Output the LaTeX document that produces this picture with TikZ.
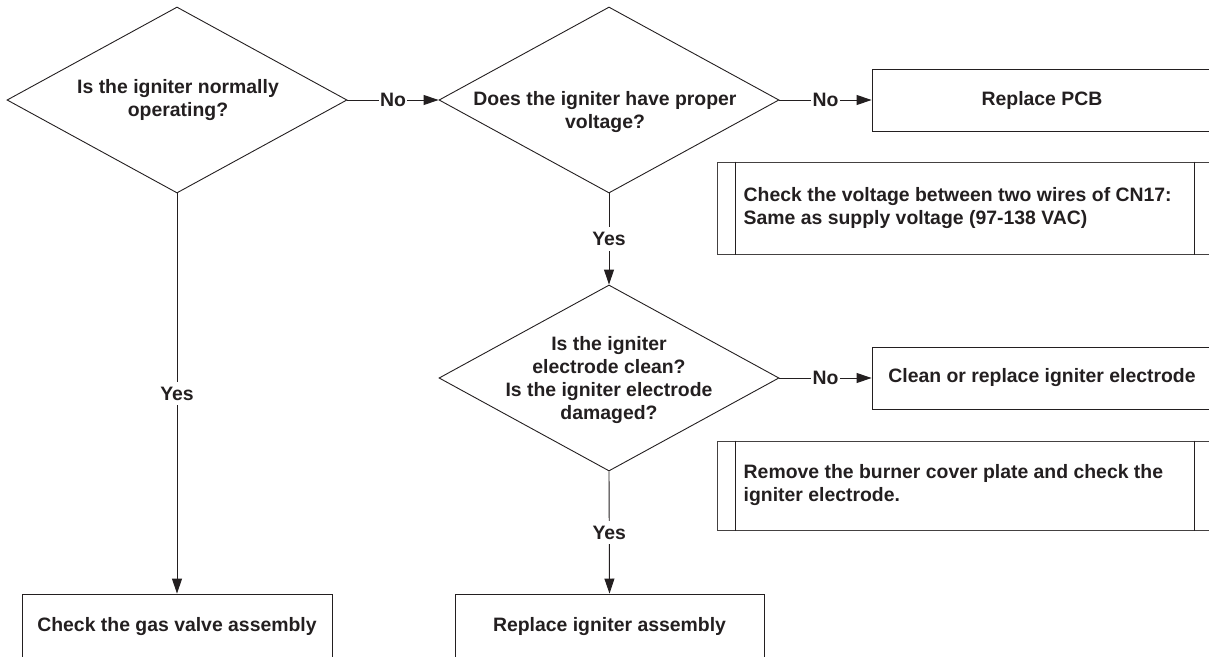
\documentclass[tikz,border=0pt]{standalone}
\usepackage{fontspec}
\setmainfont{Liberation Sans}
\usetikzlibrary{shapes.geometric,arrows.meta}
\definecolor{ink}{HTML}{231F20}
\begin{document}
\begin{tikzpicture}[x=1pt,y=-1pt,
  every node/.style={font=\fontsize{19.4}{23}\selectfont\bfseries, text=ink},
  dec/.style={draw=ink, diamond, minimum width=340pt, minimum height=186pt, inner sep=0pt, line width=0.9pt},
  box/.style={draw=ink, rectangle, inner sep=0pt, line width=0.9pt},
  note/.style={draw=ink!85, rectangle, inner sep=0pt, line width=1pt},
  txt/.style={align=center, inner sep=0pt},
  ntxt/.style={align=left, anchor=west, inner sep=0pt},
  lbl/.style={fill=white, inner xsep=1.5pt, inner ysep=5pt},
  conn/.style={draw=ink, line width=0.9pt, -{Triangle[length=15pt,width=10pt]}}
]
\useasboundingbox (0,0) rectangle (1209,656);
\clip (0,0) rectangle (1209,656);

% decisions
\node[dec] (d1) at (177,100) {};
\node[dec] (d2) at (609,100) {};
\node[dec] (d3) at (609,378) {};
\node[txt] (d1t) at (178,100) {Is the igniter normally\\operating?};
\node[txt] (d2t) at (605,112) {Does the igniter have proper\\voltage?};
\node[txt] (d3t) at (609,380) {Is the igniter\\electrode clean?\\Is the igniter electrode\\damaged?};

% action boxes
\node[box, minimum width=340pt, minimum height=62pt] (pcb) at (1042,100) {Replace PCB};
\node[box, minimum width=340pt, minimum height=62pt] (clean) at (1042,378) {Clean or replace igniter electrode};
\node[box, minimum width=310pt, minimum height=66pt] (gas) at (177,627) {Check the gas valve assembly};
\node[box, minimum width=309pt, minimum height=66pt] (ign) at (609.5,627) {Replace igniter assembly};

% notes
\node[note, minimum width=495pt, minimum height=92pt] (n1) at (964.5,208) {};
\draw[draw=ink, line width=1pt] ([xshift=19pt]n1.north west) -- ([xshift=19pt]n1.south west);
\draw[draw=ink, line width=1pt] ([xshift=-18pt]n1.north east) -- ([xshift=-18pt]n1.south east);
\node[ntxt] (n1t) at ([xshift=27pt]n1.west) {Check the voltage between two wires of CN17:\\Same as supply voltage (97-138 VAC)};

\node[note, minimum width=495pt, minimum height=89pt] (n2) at (964.5,485.5) {};
\draw[draw=ink, line width=1pt] ([xshift=19pt]n2.north west) -- ([xshift=19pt]n2.south west);
\draw[draw=ink, line width=1pt] ([xshift=-18pt]n2.north east) -- ([xshift=-18pt]n2.south east);
\node[ntxt] (n2t) at ([xshift=27pt]n2.west) {Remove the burner cover plate and check the\\igniter electrode.};

% connectors
\draw[conn] (d1.east) -- node[lbl] {No} (d2.west);
\draw[conn] (d2.east) -- node[lbl] {No} (pcb.west);
\draw[conn] (d3.east) -- node[lbl] {No} (clean.west);
\draw[conn] (d2.south) -- node[lbl] {Yes} (d3.north);
\draw[conn] (d3.south) -- node[lbl] {Yes} (ign.north);
\draw[conn] (d1.south) -- node[lbl] {Yes} (gas.north);
\end{tikzpicture}
\end{document}
